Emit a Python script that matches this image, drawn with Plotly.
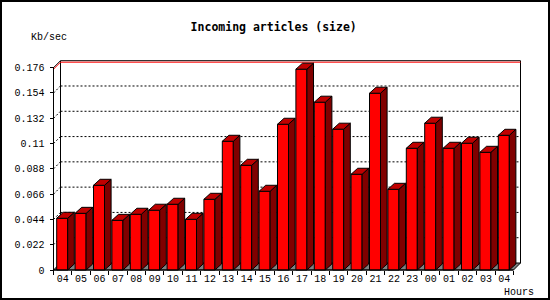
import plotly.graph_objects as go

# ---------------- data ----------------
hours = ["04", "05", "06", "07", "08", "09", "10", "11", "12", "13", "14", "15",
         "16", "17", "18", "19", "20", "21", "22", "23", "00", "01", "02", "03", "04"]
values = [0.0450, 0.0493, 0.0737, 0.0432, 0.0485, 0.0520, 0.0572, 0.0441, 0.0615,
          0.1120, 0.0911, 0.0685, 0.1268, 0.1747, 0.1460, 0.1225, 0.0833, 0.1538,
          0.0702, 0.1059, 0.1277, 0.1059, 0.1103, 0.1024, 0.1172]
ytick_vals = [0, 0.022, 0.044, 0.066, 0.088, 0.11, 0.132, 0.154, 0.176]
ytick_text = ["0", "0.022", "0.044", "0.066", "0.088", "0.11", "0.132", "0.154", "0.176"]
title = "Incoming articles (size)"
ylabel = "Kb/sec"
xlabel = "Hours"

# ---------------- geometry (pixels) ----------------
IMG_W, IMG_H = 550, 300
PL, PR, PT, PB = 48, 526, 56, 274          # plot-area pixel box
AX_X, AX_Y = 53.5, 270                      # front axis corner pixel
SLOT = 18.4                                  # px per hour slot
YSCALE = 1149.4                              # px per unit value
n = len(values)

xr = [-0.5 + (PL - AX_X) / SLOT, -0.5 + (PR - AX_X) / SLOT]
yr = [(AX_Y - PB) / YSCALE, (AX_Y - PT) / YSCALE]

WDX, WDY = 7 / SLOT, 7 / YSCALE             # wall depth
BDX, BDY = 6.6 / SLOT, 6 / YSCALE           # bar depth
FOFF, FW = -0.5 + 3.2 / SLOT, 11 / SLOT     # bar front offset & width

def pxx(p):
    return (p - PL) / (PR - PL)

def pxy(p):
    return (PB - p) / (PB - PT)

x0, x1 = -0.5, n - 0.5
ymax_axis = ytick_vals[-1]
vmax = max(values)

fig = go.Figure()

shapes = []
def line(xa, ya, xb, yb, color="black", dash=None, width=1, layer="below"):
    d = dict(type="line", xref="x", yref="y", x0=xa, y0=ya, x1=xb, y1=yb,
             line=dict(color=color, width=width), layer=layer)
    if dash:
        d["line"]["dash"] = dash
    shapes.append(d)

# floor
shapes.append(dict(type="path", xref="x", yref="y", layer="below",
                   path=f"M {x0},0 L {x1},0 L {x1+WDX},{WDY} L {x0+WDX},{WDY} Z",
                   fillcolor="#808080", line=dict(color="black", width=1)))
# dotted gridlines on back wall and left side
for v in ytick_vals[1:-1]:
    line(x0 + WDX, v + WDY, x1 + WDX, v + WDY, dash="2px,2px")
    line(x0, v, x0 + WDX, v + WDY, dash="2px,2px")
# back wall frame
line(x0 + WDX, WDY, x0 + WDX, ymax_axis + WDY)
line(x0 + WDX, ymax_axis + WDY, x1 + WDX, ymax_axis + WDY)
line(x1 + WDX, WDY, x1 + WDX, ymax_axis + WDY)
line(x0, ymax_axis, x0 + WDX, ymax_axis + WDY)
# max line (red)
line(x0 + WDX, vmax + WDY, x1 + WDX, vmax + WDY, color="#FF0000")
line(x0, vmax, x0 + WDX, vmax + WDY, color="#FF0000")
# front axes
line(x0, 0, x0, ymax_axis, layer="above")
line(x0, 0, x1, 0, layer="above")

# image border
shapes.append(dict(type="rect", xref="paper", yref="paper",
                   x0=pxx(1), x1=pxx(IMG_W - 1), y0=pxy(IMG_H - 1), y1=pxy(1),
                   line=dict(color="black", width=2), layer="above"))

# bar sides and tops
side_x, side_y, top_x, top_y = [], [], [], []
for i, v in enumerate(values):
    xl = i + FOFF
    xrr = xl + FW
    side_x += [xrr, xrr, xrr + BDX, xrr + BDX, xrr, None]
    side_y += [0, v, v + BDY, BDY, 0, None]
    top_x += [xl, xl + BDX, xrr + BDX, xrr, xl, None]
    top_y += [v, v + BDY, v + BDY, v, v, None]

fig.add_trace(go.Bar(x=list(range(n)), y=values, width=FW, offset=FOFF,
                     marker=dict(color="#FF0000", line=dict(color="black", width=1)),
                     hoverinfo="skip"))
fig.add_trace(go.Scatter(x=side_x, y=side_y, mode="lines", fill="toself",
                         fillcolor="#800000", line=dict(color="black", width=1),
                         hoverinfo="skip"))
fig.add_trace(go.Scatter(x=top_x, y=top_y, mode="lines", fill="toself",
                         fillcolor="#C00000", line=dict(color="black", width=1),
                         hoverinfo="skip"))
# invisible trace for boundary tick axis
fig.add_trace(go.Scatter(x=[x0], y=[0], xaxis="x2", mode="markers",
                         marker=dict(opacity=0), hoverinfo="skip"))

font = dict(family="Liberation Mono", size=10, color="black")
xpos = pxy(AX_Y)
fig.update_layout(
    width=IMG_W, height=IMG_H,
    margin=dict(l=PL, r=IMG_W - PR, t=PT, b=IMG_H - PB, pad=0),
    paper_bgcolor="white", plot_bgcolor="white",
    showlegend=False, barmode="overlay",
    title=dict(text=f"<b>{title}</b>", x=273.7 / IMG_W, y=1 - 26.7 / IMG_H,
               xanchor="center", yanchor="middle",
               font=dict(family="DejaVu Sans Mono", size=11.5, color="black")),
    xaxis=dict(range=xr, anchor="free", position=xpos, tickmode="array",
               tickvals=list(range(n)), ticktext=hours, ticks="", showgrid=False,
               zeroline=False, showline=False, tickfont=font, automargin=False,
               fixedrange=True, ticklabelstandoff=1),
    xaxis2=dict(range=xr, overlaying="x", anchor="free", position=xpos,
                side="bottom", tickmode="array",
                tickvals=[i - 0.5 for i in range(n + 1)], showticklabels=False,
                ticks="outside", ticklen=4, tickcolor="black", showgrid=False,
                zeroline=False, showline=False, automargin=False),
    yaxis=dict(range=yr, anchor="free", position=pxx(AX_X), tickmode="array",
               tickvals=ytick_vals, ticktext=ytick_text, ticks="outside",
               ticklen=4, tickcolor="black", showgrid=False, zeroline=False,
               showline=False, tickfont=font, automargin=False, fixedrange=True,
               ticklabelstandoff=3),
    shapes=shapes,
    annotations=[
        dict(text=ylabel, xref="paper", yref="paper", x=pxx(29.3), y=pxy(37.3),
             xanchor="left", yanchor="middle", showarrow=False, font=font),
        dict(text=xlabel, xref="paper", yref="paper", x=pxx(519), y=pxy(292.7),
             xanchor="center", yanchor="middle", showarrow=False, font=font),
    ],
)

fig.write_html("out.html")
